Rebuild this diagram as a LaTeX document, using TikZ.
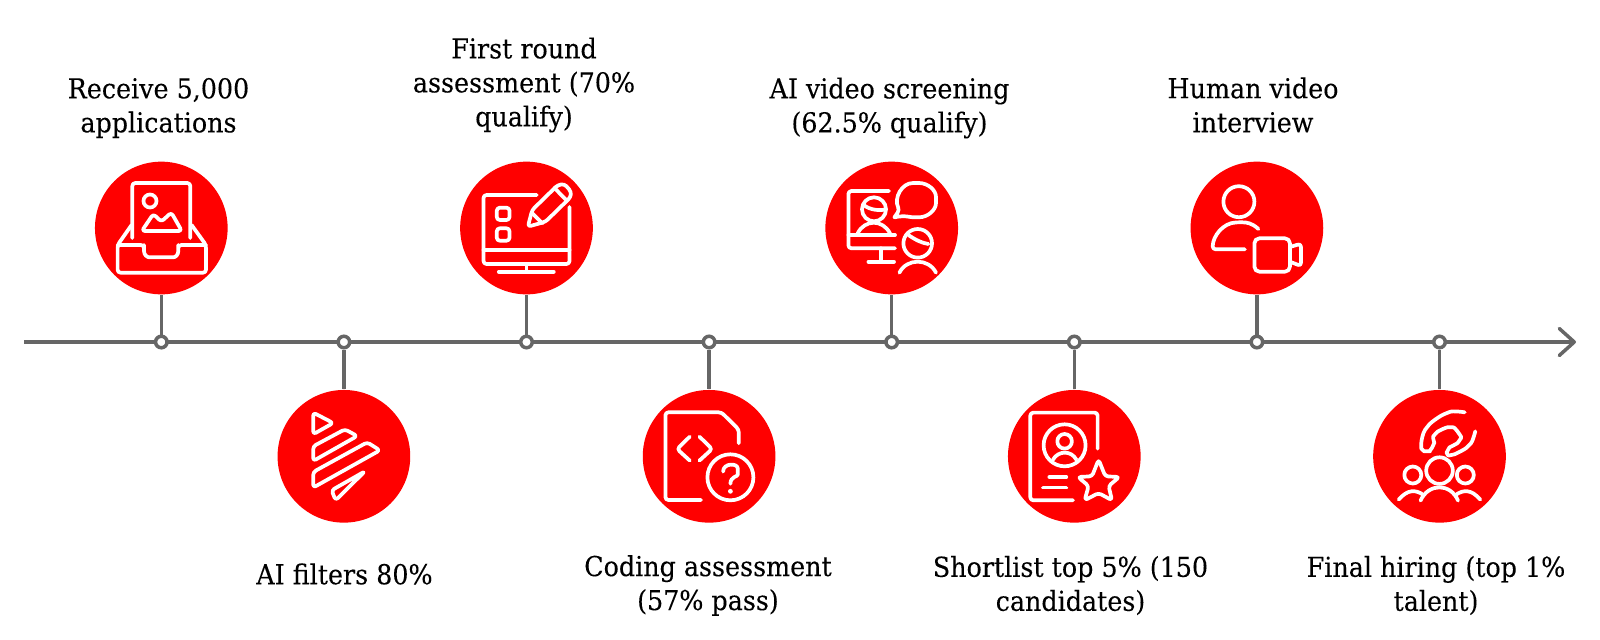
\documentclass[tikz,border=0pt]{standalone}
\usepackage{fontspec}
\setmainfont[FakeStretch=0.925,FakeBold=0.12]{DejaVu Serif}
\usepackage{xcolor}
\usetikzlibrary{arrows.meta}
\definecolor{discred}{HTML}{FF0000}
\definecolor{linegray}{HTML}{666666}
\tikzset{
  disc/.style={circle,fill=discred,inner sep=0pt,minimum size=1.326cm},
  hub/.style={circle,draw=linegray,fill=white,line width=0.035cm,inner sep=0pt,minimum size=0.115cm},
  stem/.style={draw=linegray,line width=0.035cm},
  steplabel/.style={align=center,inner sep=0pt,font=\fontsize{7.8}{9.67}\selectfont,text=black},
  iconline/.style={white,line width=0.037cm,line cap=round,line join=round,rounded corners=0.03cm}
}
\begin{document}
\begin{tikzpicture}[x=0.01cm,y=-0.01cm]
\useasboundingbox (0,0) rectangle (1600,639);

\coordinate (start) at (24,342);
\coordinate (tip) at (1576,342);
\draw [stem,-{Straight Barb[length=0.15cm,width=0.27cm,round]}] (start) -- (tip);

\node[hub] (hub1) at (161.3,342) {};
\node[hub] (hub2) at (343.9,342) {};
\node[hub] (hub3) at (526.5,342) {};
\node[hub] (hub4) at (709.1,342) {};
\node[hub] (hub5) at (891.7,342) {};
\node[hub] (hub6) at (1074.3,342) {};
\node[hub] (hub7) at (1256.9,342) {};
\node[hub] (hub8) at (1439.5,342) {};

\node[disc] (disc1) at (161.3,228) {};
\node[disc] (disc2) at (343.9,456.3) {};
\node[disc] (disc3) at (526.5,228) {};
\node[disc] (disc4) at (709.1,456.3) {};
\node[disc] (disc5) at (891.7,228) {};
\node[disc] (disc6) at (1074.3,456.3) {};
\node[disc] (disc7) at (1256.9,228) {};
\node[disc] (disc8) at (1439.5,456.3) {};

\draw [stem] (hub1) -- (disc1);
\draw [stem] (hub2) -- (disc2);
\draw [stem] (hub3) -- (disc3);
\draw [stem] (hub4) -- (disc4);
\draw [stem] (hub5) -- (disc5);
\draw [stem] (hub6) -- (disc6);
\draw [stem] (hub7) -- (disc7);
\draw [stem] (hub8) -- (disc8);

\node[steplabel] (label1) at (158.5,108) {Receive 5,000\\applications};
\node[steplabel] (label2) at (344.5,574) {AI filters 80\%};
\node[steplabel] (label3) at (524,85) {First round\\assessment (70\%\\qualify)};
\node[steplabel] (label4) at (708,585.5) {Coding assessment\\(57\% pass)};
\node[steplabel] (label5) at (889.5,108) {AI video screening\\(62.5\% qualify)};
\node[steplabel] (label6) at (1070.5,585.5) {Shortlist top 5\% (150\\candidates)};
\node[steplabel] (label7) at (1253,105) {Human video\\interview};
\node[steplabel] (label8) at (1436,585.5) {Final hiring (top 1\%\\talent)};

% inbox
\begin{scope}[shift={(161.3,228)},iconline]
\draw (-29,10) -- (-29,-45) -- (29,-45) -- (29,10);
\draw (-11.3,-27) circle (6.5);
\draw (-19.5,3) -- (-8,-14) -- (0,-6.3) -- (10,-15.5) -- (20.5,3) -- cycle;
\draw (-29.7,-3) -- (-43.7,17) -- (-43.7,44.7) -- (44.7,44.7) -- (44.7,17) -- (30.3,-3);
\draw (-43.7,17) -- (-17.3,17) -- (-17.3,20) .. controls (-17.3,27) and (-14,29.3) .. (-9,29.3) -- (9,29.3) .. controls (14,29.3) and (17,27) .. (17,20) -- (17,17) -- (44.7,17);
\end{scope}

% play strips
\begin{scope}[shift={(343.9,456.3)},iconline]
\draw (-30.7,-43.7) -- (-10.7,-33.3) -- (-30.7,-22) -- cycle;
\draw (-30.7,-10) -- (1,-27) -- (13.3,-20.3) -- (-30.7,4.7) -- cycle;
\draw (-30.7,15.7) -- (23.3,-14) -- (36,-6) -- (-30.7,31.3) -- cycle;
\draw (-12.3,34) -- (21,15) -- (-8.3,44) -- cycle;
\end{scope}

% monitor and pencil
\begin{scope}[shift={(526.5,228)},iconline]
\draw (10.3,-33) -- (-43,-33) -- (-43,36) -- (43,36) -- (43,-21);
\draw (-43,22) -- (43,22);
\draw (0,36) -- (0,43.7);
\draw (-27.7,43.7) -- (27.3,43.7);
\draw (-29.7,-20.3) rectangle (-17,-8);
\draw (-29.7,0.3) rectangle (-17,12.7);
\draw (1.3,-1.3) -- (5.7,-18) -- (31.3,-43) -- (38,-44) -- (44.7,-36.3) -- (44,-30.7) -- (19,-6.3) -- cycle;
\draw (28,-40) -- (40.3,-27.3);
\draw (5.7,-14.7) -- (15.7,-4.7);
\end{scope}

% code file
\begin{scope}[shift={(709.1,456.3)},iconline]
\draw (-8,43.7) -- (-43.7,43.7) -- (-43.7,-44) -- (12.3,-44) -- (29.7,-26.7) -- (29.7,-13);
\draw (-19.3,-19.7) -- (-32,-7.3) -- (-19.3,4.3);
\draw (-9.7,-19.7) -- (3,-7.3) -- (-9.7,4.3);
\draw (21.3,21) circle (23);
\draw (14,15.3) .. controls (14,6.5) and (28.7,6.5) .. (28.7,15.3) .. controls (28.7,20.5) and (21.3,20) .. (21.3,27.5);
\fill (21.3,35) circle (2.4);
\end{scope}

% video call
\begin{scope}[shift={(891.7,228)},iconline]
\draw (-2.7,-37) -- (-43.3,-37) -- (-43.3,20.3) -- (3.3,20.3);
\draw (-43.3,7) -- (3.3,7);
\draw (-10.7,20.3) -- (-10.7,33.7);
\draw (-23.3,33.7) -- (2.3,33.7);
\draw (-17.7,-18.7) circle (12);
\draw (-28,-23) .. controls (-22,-18) and (-12,-17) .. (-5.7,-18.7);
\draw (-34,5.3) .. controls (-27,-8.8) and (-9,-8.8) .. (-1.7,5.3);
\draw (2.7,-10.7) -- (7.7,-18) .. controls (2,-30) and (10,-45) .. (24.3,-45) .. controls (36,-45) and (44.3,-38) .. (44.3,-28) .. controls (44.3,-18) and (36,-10.7) .. (24.3,-10.7) .. controls (18,-10.7) and (14,-13) .. (2.7,-10.7);
\draw (26,15.3) circle (14.3);
\draw (16.7,7) .. controls (24,12) and (30,15) .. (36.7,16);
\draw (7.7,44.7) .. controls (15,30) and (37,30) .. (44.3,44.7);
\end{scope}

% profile and star
\begin{scope}[shift={(1074.3,456.3)},iconline]
\draw (-1.3,44) -- (-44,44) -- (-44,-43.7) -- (23.3,-43.7) -- (23.3,-7.7);
\draw (-9.7,-11) circle (21);
\draw (-9.7,-15) circle (7.3);
\draw (-21.3,3.3) .. controls (-16,-6) and (-3,-6) .. (2,3.3);
\draw (-25,20.7) -- (-8,20.7);
\draw (-31.3,31.3) -- (-8,31.3);
\draw (24.3,3.3) -- (31,20) -- (45,20.7) -- (34.3,29.7) -- (37.7,44) -- (24.3,36.7) -- (10.3,44) -- (14.3,29.7) -- (3.7,20.7) -- (17.7,20) -- cycle;
\end{scope}

% person and camera
\begin{scope}[shift={(1256.9,228)},iconline]
\draw (-18,-26.3) circle (15.5);
\draw (1.5,1) .. controls (-5,-5) and (-10,-5.7) .. (-18,-5.7) .. controls (-34,-5) and (-44,8) .. (-44.3,21.3) -- (-12,21.3);
\draw[rounded corners=0.05cm] (-2.5,10.3) rectangle (33,43.7);
\draw (33,19) -- (44,15.7) -- (44,38) -- (33,33.7);
\end{scope}

% hand over people
\begin{scope}[shift={(1439.5,456.3)},iconline]
\draw plot[smooth,tension=0.6] coordinates {(25.2,-44) (7.5,-43.3) (-12.5,-29) (-18.2,-10.7) (-12.5,-5) (-6.5,-10.7) (-4.2,-22.3) (10.8,-29) (19.8,-22.3) (19.8,-15.7) (8.5,-6.3) (11.8,-1.3) (29.2,-10.7) (35.8,-25)};
\draw (0,14.3) circle (13.3);
\draw (-26.7,18.7) circle (8.5);
\draw (25.8,18.7) circle (8.5);
\draw (-19,44.3) .. controls (-11,26.6) and (11,26.6) .. (18.5,44.3);
\draw (-40.8,43.3) .. controls (-32,33) and (-24,33) .. (-16,38.7);
\draw (40.8,43.3) .. controls (32,33) and (24,33) .. (16,38.7);
\end{scope}

\end{tikzpicture}
\end{document}
